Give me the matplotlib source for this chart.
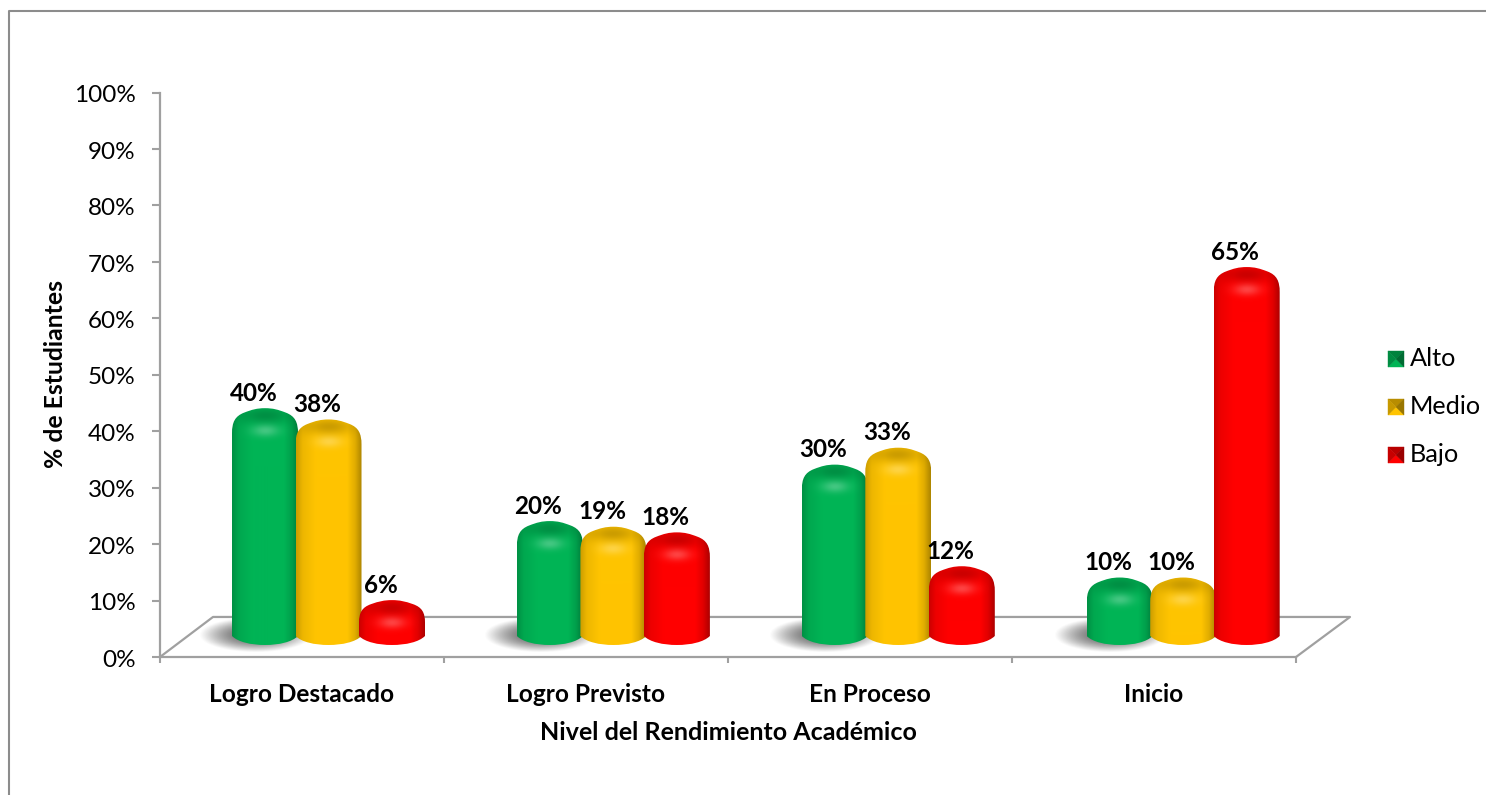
#!/usr/bin/env python3
import numpy as np
import matplotlib
matplotlib.use("Agg")
import matplotlib.pyplot as plt
from matplotlib.colors import to_rgb
from matplotlib.lines import Line2D
from matplotlib.patches import PathPatch, Polygon
from matplotlib.path import Path
from matplotlib.transforms import Affine2D, ScaledTranslation

# Data
categories = ["Logro Destacado", "Logro Previsto", "En Proceso", "Inicio"]
series_names = ["Alto", "Medio", "Bajo"]
alto = [40, 20, 30, 10]
medio = [38, 19, 33, 10]
bajo = [6, 18, 12, 65]
series_values = [alto, medio, bajo]
series_colors = ["#00B455", "#FFC400", "#FF0000"]
y_ticks = list(range(0, 101, 10))

W, H = 1486, 795
GRAY = "#A0A0A0"
FONT = "Lato"
plt.rcParams["font.family"] = [FONT, "DejaVu Sans"]

# One x unit is 284 px and one y unit is 5.64 px on the canvas.
PX_X = 1 / 284
PX_Y = 1 / 5.64
BAR_W = 66 * PX_X
BAR_STEP = 63.5 * PX_X
DEPTH_X = 26.5 * PX_X
GROUP_SHIFT = 0.9 * PX_X

fig = plt.figure(figsize=(W / 100, H / 100), dpi=100)
ax = fig.add_axes([160 / W, (H - 657) / H, 1136 / W, 564.5 / H])
ax.set_xlim(0, 4)
ax.set_ylim(0, 100)
ax.patch.set_visible(False)

# transform for things placed in canvas pixels
px = Affine2D().scale(1 / W, -1 / H).translate(0, 1) + fig.transFigure

# outer frame, the right and bottom sides are cut off in the picture
fig.add_artist(Line2D([9, 9, W], [H, 11, 11], transform=px, color="#8C8C8C", lw=1.5))

# axes
for side in ["top", "right"]:
    ax.spines[side].set_visible(False)
for side in ["left", "bottom"]:
    ax.spines[side].set_color(GRAY)
    ax.spines[side].set_linewidth(1.6)
ax.set_yticks(y_ticks)
ax.set_yticklabels([f"{t}%" for t in y_ticks], fontsize=17.5, color="black")
ax.set_xticks(range(5))
ax.set_xticklabels([])
ax.set_xticks([i + 0.5 for i in range(4)], minor=True)
ax.set_xticklabels(categories, minor=True, fontsize=17.6, fontweight="bold")
ax.tick_params(axis="y", length=5.5, width=1.5, color=GRAY, pad=12)
ax.tick_params(axis="x", which="major", length=4.5, width=1.5, color=GRAY)
ax.tick_params(axis="x", which="minor", length=0, pad=18.5)
# nudge the y tick labels down a little
for label in ax.get_yticklabels():
    label.set_transform(label.get_transform() + ScaledTranslation(0, -1.2 / 100, fig.dpi_scale_trans))

# floor of the 3D box
floor_x = [0, 53 * PX_X, 4 + 54 * PX_X, 4]
floor_y = [0, 40 * PX_Y, 40 * PX_Y, 0]
ax.plot(floor_x, floor_y, color=GRAY, lw=1.6, clip_on=False, zorder=1)


def soft_shadow(x_center, bottom):
    # blurred shadow thrown to the left of each group
    h, w = 60, 200
    yy, xx = np.mgrid[0:h, 0:w]
    r = np.hypot((xx - w * 0.5) / (w * 0.5), (yy - h * 0.5) / (h * 0.5))
    img = np.zeros((h, w, 4))
    img[..., :3] = 0.3
    img[..., 3] = np.clip(1.0 - r ** 2, 0, 1) ** 1.2 * 0.85
    ax.imshow(img, extent=[x_center - 66 * PX_X, x_center + 46 * PX_X,
                           bottom - 7 * PX_Y, bottom + 27 * PX_Y],
              aspect="auto", origin="upper", zorder=2, interpolation="bilinear")


def bar_image(color, height_px, width_px=66):
    # shading of a rounded cylinder: dark edges, dark cap, soft highlight
    h, w = int(height_px) + 1, width_px * 2
    u = np.linspace(0, 1, w)
    edge = np.interp(u, [0, 0.1, 0.3, 0.78, 0.9, 1], [0.8, 0.93, 1, 1, 0.88, 0.68])
    rgb = np.array(to_rgb(color))
    img = np.ones((h, w, 3)) * rgb
    y = np.arange(h)[:, None]
    x = (u - 0.5)[None, :]
    shade = edge[None, :] * np.ones((h, w))
    # darker top face
    cap = np.exp(-((y - 7) / 8.0) ** 2) * np.exp(-(x / 0.36) ** 2) * 0.2
    shade = shade - cap
    img = img * shade[..., None]
    # highlight under the cap
    glow = np.exp(-((y - 22) / 6.0) ** 2) * np.exp(-(x / 0.2) ** 2) * 0.26
    img = img + (1 - img) * glow[..., None]
    return np.clip(img, 0, 1)


def draw_bar(x_center, value, color, zorder):
    top = value + 23 * PX_Y
    bottom = 12 * PX_Y
    left = x_center - BAR_W / 2
    right = x_center + BAR_W / 2
    cap = min(25, (top - bottom) / PX_Y * 0.5)

    def p(dx, dy, side=1):
        # dx px in from the side, dy px below the top
        edge = left if side < 0 else right
        return (edge - side * dx * PX_X, top - dy * PX_Y)

    def q(dx, dy, side=1):
        # dx px in from the side, dy px above the bottom
        edge = left if side < 0 else right
        return (edge - side * dx * PX_X, bottom + dy * PX_Y)

    verts = [
        p(0, cap, -1),
        p(0, cap * 0.56, -1), p(3, cap * 0.32, -1), p(12, cap * 0.18, -1),
        p(20, cap * 0.056, -1), (x_center - 8 * PX_X, top), (x_center, top),
        (x_center + 8 * PX_X, top), p(20, cap * 0.056), p(12, cap * 0.18),
        p(3, cap * 0.32), p(0, cap * 0.56), p(0, cap),
        q(0, 9),
        q(6, 3), (x_center + 14 * PX_X, bottom), (x_center, bottom),
        (x_center - 14 * PX_X, bottom), q(6, 3, -1), q(0, 9, -1),
        p(0, cap, -1),
    ]
    codes = ([Path.MOVETO] + [Path.CURVE4] * 12 + [Path.LINETO]
             + [Path.CURVE4] * 6 + [Path.LINETO])
    clip = PathPatch(Path(verts, codes), transform=ax.transData, fc="none", ec="none")
    ax.add_patch(clip)
    im = ax.imshow(bar_image(color, (top - bottom) / PX_Y),
                   extent=[left, right, bottom, top], aspect="auto", origin="upper",
                   zorder=zorder, interpolation="bilinear")
    im.set_clip_path(clip)
    return top


for i in range(len(categories)):
    center = i + 0.5 + DEPTH_X + i * GROUP_SHIFT
    soft_shadow(center - BAR_STEP, 12 * PX_Y)
    for j, values in enumerate(series_values):
        x = center + (j - 1) * BAR_STEP
        top = draw_bar(x, values[i], series_colors[j], 3 + j)
        ax.text(x - 11.5 * PX_X, top + 15 * PX_Y, f"{values[i]}%", ha="center", va="center",
                fontsize=17.5, fontweight="bold", color="black", zorder=10)

ax.set_xlim(0, 4)
ax.set_ylim(0, 100)

# axis titles
fig.text(728 / W, 1 - 732.5 / H, "Nivel del Rendimiento Académico", ha="center", va="center",
         fontsize=18, fontweight="bold")
fig.text(56 / W, 1 - 374 / H, "% de Estudiantes", ha="center", va="center", rotation=90,
         fontsize=17.8, fontweight="bold")


def legend_key(x0, y0, color, size=16):
    # small bevelled square
    rgb = np.array(to_rgb(color))
    x1, y1 = x0 + size, y0 + size
    mx, my = x0 + size / 2, y0 + size / 2
    faces = [
        ([(x0, y0), (x1, y0), (mx, my)], 0.72),
        ([(x0, y1), (x1, y1), (mx, my)], 1.0),
        ([(x0, y0), (x0, y1), (mx, my)], 0.78),
        ([(x1, y0), (x1, y1), (mx, my)], 0.6),
    ]
    for pts, k in faces:
        fig.add_artist(Polygon(pts, closed=True, transform=px, fc=rgb * k, ec=rgb * k, lw=0.3))


legend_y = [359, 407, 455]
for name, color, y in zip(series_names, series_colors, legend_y):
    legend_key(1388, y - 8, color)
    fig.text(1410 / W, 1 - y / H, name, ha="left", va="center", fontsize=18.2)

fig.savefig("out.png", dpi=100)
